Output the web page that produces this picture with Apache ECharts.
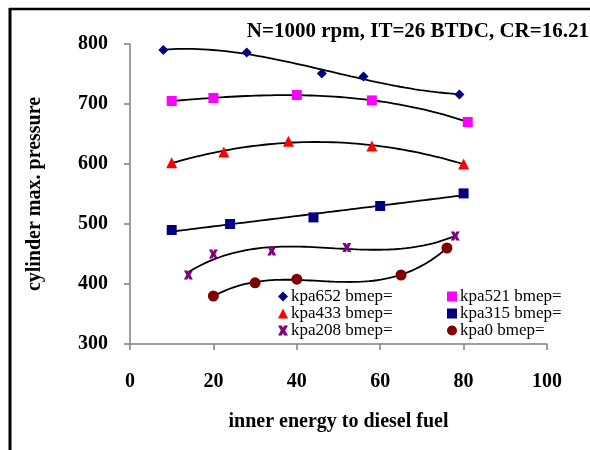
<!DOCTYPE html>
<html>
<head>
<meta charset="utf-8">
<script src="https://cdn.jsdelivr.net/npm/echarts@6/dist/echarts.min.js"></script>
<style>
  html, body { margin: 0; padding: 0; background: #fff; }
  #chart { width: 590px; height: 450px; }
</style>
</head>
<body>
<div id="chart"></div>
<script>
// data
var x652 = [8, 28, 46, 56, 79];
var y652 = [790, 786, 751, 746, 716];
var x521 = [10, 20, 40, 58, 81];
var y521 = [705, 710, 715, 706, 670];
var x433 = [10, 22.5, 38, 58, 80];
var y433 = [602, 620, 638, 630, 600];
var x315 = [10, 24, 44, 60, 80];
var y315 = [490, 500, 511, 530, 551];
var x208 = [14, 20, 34, 52, 78];
var y208 = [415, 450, 455, 461, 480];
var x0 = [20, 30, 40, 65, 76];
var y0 = [380, 402, 408, 415, 460];

var xTicks = [0, 20, 40, 60, 80, 100];
var yTicks = [300, 400, 500, 600, 700, 800];

var chartTitle = 'N=1000 rpm, IT=26 BTDC, CR=16.21';
var xName = 'inner energy to diesel fuel';
var yName = 'cylinder max. pressure';

var serif = '"Liberation Serif", "Times New Roman", serif';

// least squares polynomial (trendline like excel)
function polyFit(xs, ys, order) {
	var n = order + 1;
	var A = [], b = [];
	for (var i = 0; i < n; i++) {
		A.push([]);
		b.push(0);
		for (var j = 0; j < n; j++) {
			var s = 0;
			for (var k = 0; k < xs.length; k++) s += Math.pow(xs[k], i + j);
			A[i].push(s);
		}
		for (var k2 = 0; k2 < xs.length; k2++) b[i] += ys[k2] * Math.pow(xs[k2], i);
	}
	// gauss
	for (var c = 0; c < n; c++) {
		var p = c;
		for (var r = c + 1; r < n; r++) if (Math.abs(A[r][c]) > Math.abs(A[p][c])) p = r;
		var t = A[c]; A[c] = A[p]; A[p] = t;
		var tb = b[c]; b[c] = b[p]; b[p] = tb;
		for (var r2 = c + 1; r2 < n; r2++) {
			var f = A[r2][c] / A[c][c];
			for (var q = c; q < n; q++) A[r2][q] -= f * A[c][q];
			b[r2] -= f * b[c];
		}
	}
	var coef = new Array(n);
	for (var r3 = n - 1; r3 >= 0; r3--) {
		var s2 = b[r3];
		for (var q2 = r3 + 1; q2 < n; q2++) s2 -= A[r3][q2] * coef[q2];
		coef[r3] = s2 / A[r3][r3];
	}
	return coef;
}

function trend(xs, ys, order) {
	var coef = polyFit(xs, ys, order);
	var lo = Math.min.apply(null, xs), hi = Math.max.apply(null, xs);
	var out = [];
	for (var i = 0; i <= 60; i++) {
		var x = lo + (hi - lo) * i / 60;
		var y = 0;
		for (var j = 0; j < coef.length; j++) y += coef[j] * Math.pow(x, j);
		out.push([x, y]);
	}
	return out;
}

function pairs(xs, ys) {
	return xs.map(function(v, i) { return [v, ys[i]]; });
}

// chunky x marker
var crossPath = 'path://M0,0 L4,0 L5,2.5 L6,0 L10,0 L7.2,5 L10,10 L6,10 L5,7.5 L4,10 L0,10 L2.8,5 Z';

var seriesDef = [
	{ name: 'kpa652 bmep=', xs: x652, ys: y652, order: 3, symbol: 'diamond', size: 10, color: '#000080' },
	{ name: 'kpa521 bmep=', xs: x521, ys: y521, order: 3, symbol: 'rect', size: 10, color: '#ff00ff' },
	{ name: 'kpa433 bmep=', xs: x433, ys: y433, order: 2, symbol: 'triangle', size: 11, color: '#ff0000' },
	{ name: 'kpa315 bmep=', xs: x315, ys: y315, order: 1, symbol: 'rect', size: 10, color: '#000080' },
	{ name: 'kpa208 bmep=', xs: x208, ys: y208, order: 3, symbol: crossPath, size: 9, color: '#800080' },
	{ name: 'kpa0 bmep=', xs: x0, ys: y0, order: 3, symbol: 'circle', size: 11, color: '#800000' }
];

var series = [];
// trend lines first so markers stay on top
seriesDef.forEach(function(d) {
	series.push({
		name: d.name + ' trend',
		type: 'line',
		data: trend(d.xs, d.ys, d.order),
		showSymbol: false,
		smooth: false,
		lineStyle: { color: '#000', width: 1.8 },
		silent: true,
		z: 2
	});
});
seriesDef.forEach(function(d) {
	series.push({
		name: d.name,
		type: 'scatter',
		data: pairs(d.xs, d.ys),
		symbol: d.symbol,
		symbolSize: d.size,
		itemStyle: { color: d.color, opacity: 1 },
		z: 3
	});
});

function legendData(names) {
	return names.map(function(n) {
		var d = seriesDef.filter(function(s) { return s.name === n; })[0];
		return { name: n, icon: d.symbol, itemStyle: { color: d.color, opacity: 1 } };
	});
}

var legendBase = {
	orient: 'vertical',
	itemWidth: 10,
	itemHeight: 10,
	itemGap: 0,
	textStyle: { fontFamily: serif, fontSize: 17, color: '#000', lineHeight: 17, padding: [0, 0, 0, -2] },
	padding: 0,
	selectedMode: false
};

var chart = echarts.init(document.getElementById('chart'));
var option = {
	backgroundColor: '#fff',
	animation: false,
	title: {
		text: chartTitle,
		right: 1,
		top: 21,
		padding: 0,
		textStyle: { fontFamily: serif, fontSize: 21, fontWeight: 'bold', color: '#000' }
	},
	legend: [
		Object.assign({}, legendBase, { left: 278, top: 288, data: legendData(['kpa652 bmep=', 'kpa433 bmep=', 'kpa208 bmep=']) }),
		Object.assign({}, legendBase, { left: 447, top: 288, data: legendData(['kpa521 bmep=', 'kpa315 bmep=', 'kpa0 bmep=']) })
	],
	grid: { left: 130, right: 43, top: 44, bottom: 106 },
	xAxis: {
		type: 'value',
		min: xTicks[0],
		max: xTicks[xTicks.length - 1],
		interval: 20,
		name: xName,
		nameLocation: 'middle',
		nameGap: 68,
		nameTextStyle: { fontFamily: serif, fontSize: 20, fontWeight: 'bold', color: '#000' },
		axisLine: { lineStyle: { color: '#808080', width: 1.5 } },
		axisTick: { inside: false, length: 6, lineStyle: { color: '#808080', width: 1.5 } },
		axisLabel: { margin: 28, fontFamily: serif, fontSize: 20, fontWeight: 'bold', color: '#000' },
		splitLine: { show: false }
	},
	yAxis: {
		type: 'value',
		min: yTicks[0],
		max: yTicks[yTicks.length - 1],
		interval: 100,
		name: yName,
		nameLocation: 'middle',
		nameGap: 85,
		nameTextStyle: { fontFamily: serif, fontSize: 20, fontWeight: 'bold', color: '#000' },
		axisLine: { show: true, lineStyle: { color: '#808080', width: 1.5 } },
		axisTick: { show: true, inside: false, length: 6, lineStyle: { color: '#808080', width: 1.5 } },
		axisLabel: { margin: 22, fontFamily: serif, fontSize: 20, fontWeight: 'bold', color: '#000' },
		splitLine: { show: false }
	},
	graphic: [
		// outer frame: top and left only
		{ type: 'line', shape: { x1: 9, y1: 9, x2: 590, y2: 9 }, style: { stroke: '#000', lineWidth: 2.5 } },
		{ type: 'line', shape: { x1: 10, y1: 8, x2: 10, y2: 450 }, style: { stroke: '#000', lineWidth: 3 } }
	],
	series: series
};
chart.setOption(option);
</script>
</body>
</html>
